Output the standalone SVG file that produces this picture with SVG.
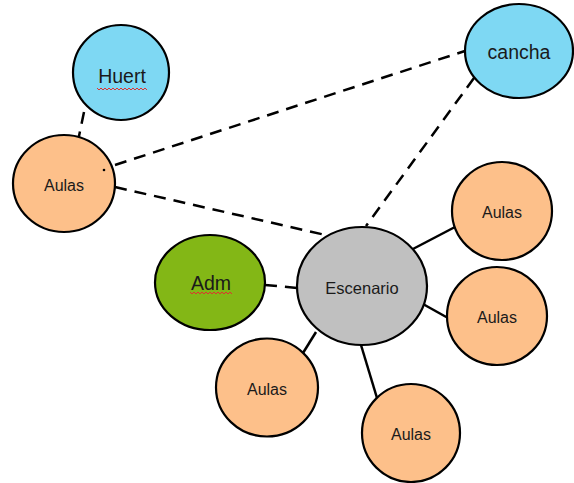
<svg xmlns="http://www.w3.org/2000/svg" width="574" height="483" viewBox="0 0 574 483">
<style>
.n{stroke:#000;stroke-width:2.2}
.blue{fill:#7ed8f3}
.orange{fill:#fdc08a}
.green{fill:#83b716}
.gray{fill:#c0c0c0}
.t{font-family:"Liberation Sans",Arial,sans-serif;fill:#1a1a1a;text-anchor:middle;dominant-baseline:central}
.s{font-size:16px}
.e{font-size:16.5px}
.l{font-size:19.5px}
.c line{stroke:#000;stroke-width:2.5}
.c .d{stroke-dasharray:12 8}
.sq{fill:none;stroke:#e03030;stroke-width:1}
</style>
<rect width="574" height="483" fill="#fff"/>
<g class="c" id="connectors">
<line class="d" x1="84" y1="112" x2="78" y2="141"/>
<line class="d" x1="115" y1="165" x2="468" y2="50"/>
<line class="d" x1="115" y1="187" x2="330" y2="236"/>
<line class="d" x1="474" y1="78" x2="366" y2="226"/>
<line class="d" x1="265" y1="285" x2="298" y2="288"/>
<line x1="411" y1="250" x2="455" y2="227"/>
<line x1="414" y1="299" x2="448" y2="318"/>
<line x1="316" y1="332" x2="303" y2="353"/>
<line x1="361" y1="345" x2="377" y2="398"/>
</g>
<g id="huert">
<ellipse class="n blue" cx="121" cy="72.5" rx="48" ry="47.5"/>
<text class="t l" x="122" y="76">Huert</text>
<path class="sq" d="M97,88 l2,2 l2,-2 l2,2 l2,-2 l2,2 l2,-2 l2,2 l2,-2 l2,2 l2,-2 l2,2 l2,-2 l2,2 l2,-2 l2,2 l2,-2 l2,2 l2,-2 l2,2 l2,-2 l2,2 l2,-2 l2,2 l2,-2 l2,2"/>
</g>
<g id="aulas1">
<ellipse class="n orange" cx="64" cy="183.5" rx="51" ry="48.5"/>
<text class="t s" x="64" y="185">Aulas</text>
<circle cx="104" cy="170" r="1.3" fill="#000"/>
</g>
<g id="cancha">
<ellipse class="n blue" cx="519" cy="51" rx="54" ry="47"/>
<text class="t l" x="519" y="52">cancha</text>
</g>
<g id="adm">
<ellipse class="n green" cx="210" cy="282.5" rx="55" ry="47.5"/>
<text class="t l" x="211" y="283">Adm</text>
<path class="sq" d="M190,292 l2,2 l2,-2 l2,2 l2,-2 l2,2 l2,-2 l2,2 l2,-2 l2,2 l2,-2 l2,2 l2,-2 l2,2 l2,-2 l2,2 l2,-2 l2,2 l2,-2 l2,2 l2,-2 l2,2"/>
</g>
<g id="escenario">
<ellipse class="n gray" cx="362" cy="286" rx="65" ry="59"/>
<text class="t e" x="362" y="288">Escenario</text>
</g>
<g id="aulas2">
<ellipse class="n orange" cx="502" cy="211" rx="50" ry="49"/>
<text class="t s" x="502" y="212">Aulas</text>
</g>
<g id="aulas3">
<ellipse class="n orange" cx="497" cy="316" rx="50" ry="49"/>
<text class="t s" x="497" y="317">Aulas</text>
</g>
<g id="aulas4">
<ellipse class="n orange" cx="267" cy="387.5" rx="51" ry="49"/>
<text class="t s" x="267" y="389">Aulas</text>
</g>
<g id="aulas5">
<ellipse class="n orange" cx="411" cy="433" rx="49" ry="49"/>
<text class="t s" x="411" y="434">Aulas</text>
</g>
</svg>
